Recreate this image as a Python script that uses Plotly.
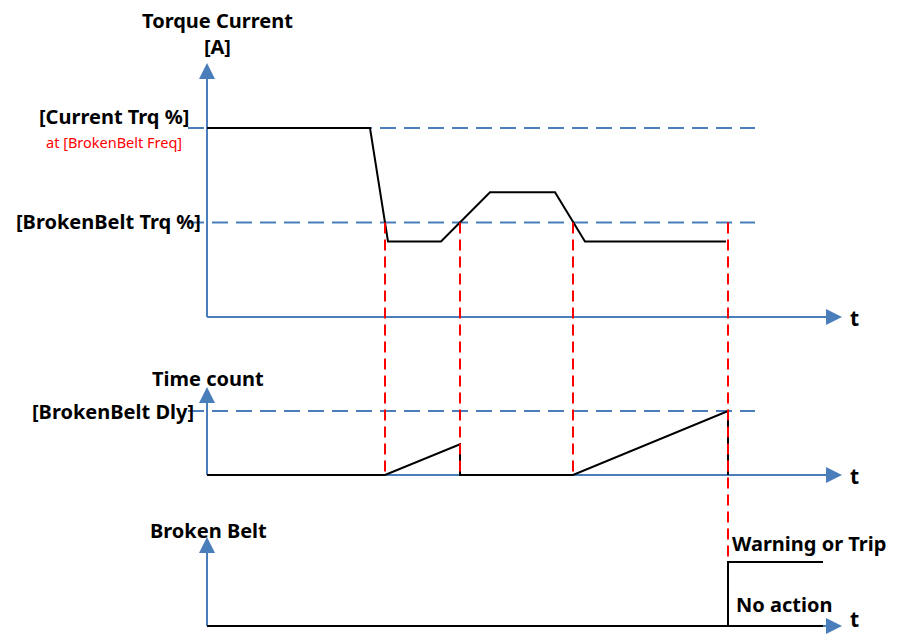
import plotly.graph_objects as go

# ---------------- data ----------------
# time axis in arbitrary units (t = 0 at the vertical axes)
torque_t = [0, 1.63, 1.81, 2.34, 2.83, 3.48, 3.78, 5.19]
torque_pct = [100, 100, 40, 40, 66, 66, 40, 40]
current_trq_level = 100
brokenbelt_trq_level = 50

count_t = [0, 1.78, 2.53, 2.53, 3.66, 5.21, 5.21]
count_pct = [0, 0, 48, 0, 0, 100, 0]
brokenbelt_dly_level = 100

cross_t = [1.78, 2.53, 3.66]      # torque crosses [BrokenBelt Trq %]
detect_t = 5.21                    # time count reaches [BrokenBelt Dly]

belt_noaction_t = [0, 6.16]
belt_noaction_v = [0, 0]
belt_warn_t = [5.21, 5.21, 6.16]
belt_warn_v = [0, 1, 1]

ref_t = [-0.19, 5.48]              # extent of dashed reference levels

# ---------------- geometry / style ----------------
W, H = 899, 635
X0_PX, PX_PER_T = 207, 100
# panel: (baseline pixel row, pixels per value unit)
PANELS = {"y": (317, 1.89), "y2": (475, 0.64), "y3": (626, 64.0)}
AXIS_TOP = {"y": 134.4, "y2": 137.5, "y3": 1.39}
T_AXIS_END = 6.35
HEAD = 16

BLUE = "#4A7EBB"
RED = "#FF0000"
BLACK = "#000000"
FONT = "Noto Sans"


def paper_y(axis, v):
    base, s = PANELS[axis]
    return 1 - (base - s * v) / H


def px(xp, yp):
    return xp / W, 1 - yp / H


fig = go.Figure()

# axes lines (blue)
for ax in PANELS:
    top = AXIS_TOP[ax] - (HEAD - 2) / PANELS[ax][1]
    fig.add_trace(go.Scatter(x=[0, 0], y=[0, top], mode="lines",
                             line=dict(color=BLUE, width=2), yaxis=ax,
                             hoverinfo="skip", showlegend=False))
    fig.add_trace(go.Scatter(x=[0, T_AXIS_END - (HEAD - 2) / PX_PER_T], y=[0, 0],
                             mode="lines", line=dict(color=BLUE, width=2),
                             yaxis=ax, hoverinfo="skip", showlegend=False))

# dashed reference levels
for ax, lvl, w in [("y", current_trq_level, 2.2), ("y", brokenbelt_trq_level, 2.2),
                   ("y2", brokenbelt_dly_level, 1.8)]:
    fig.add_trace(go.Scatter(x=ref_t, y=[lvl, lvl], mode="lines",
                             line=dict(color=BLUE, width=w, dash="16px,8px"),
                             yaxis=ax, hoverinfo="skip", showlegend=False))

# signals
fig.add_trace(go.Scatter(x=torque_t, y=torque_pct, mode="lines",
                         line=dict(color=BLACK, width=2), yaxis="y",
                         showlegend=False))
fig.add_trace(go.Scatter(x=count_t, y=count_pct, mode="lines",
                         line=dict(color=BLACK, width=2), yaxis="y2",
                         showlegend=False))
fig.add_trace(go.Scatter(x=belt_noaction_t, y=belt_noaction_v, mode="lines",
                         line=dict(color=BLACK, width=2), yaxis="y3",
                         showlegend=False))
fig.add_trace(go.Scatter(x=belt_warn_t, y=belt_warn_v, mode="lines",
                         line=dict(color=BLACK, width=2), yaxis="y3",
                         showlegend=False))

# red dashed event markers
shapes = []
for t in cross_t:
    shapes.append(dict(type="line", xref="x", yref="paper", x0=t, x1=t,
                       y0=paper_y("y", brokenbelt_trq_level), y1=paper_y("y2", 0),
                       line=dict(color=RED, width=2, dash="11px,6px"), layer="above"))
shapes.append(dict(type="line", xref="x", yref="paper", x0=detect_t, x1=detect_t,
                   y0=paper_y("y", brokenbelt_trq_level), y1=paper_y("y3", 1),
                   line=dict(color=RED, width=2, dash="11px,6px"), layer="above"))

annotations = []
# arrowheads
for ax in PANELS:
    annotations.append(dict(x=0, y=AXIS_TOP[ax], xref="x", yref=ax, ax=0, ay=HEAD,
                            text="", showarrow=True, arrowhead=2, arrowsize=1.6,
                            arrowwidth=2, arrowcolor=BLUE, standoff=0))
    annotations.append(dict(x=T_AXIS_END, y=0, xref="x", yref=ax, ax=-HEAD, ay=0,
                            text="", showarrow=True, arrowhead=2, arrowsize=1.6,
                            arrowwidth=2, arrowcolor=BLUE, standoff=0))


def label(text, xp, yp, xanchor="center", size=20, color=BLACK, weight="bold",
          yanchor="middle"):
    x, y = px(xp, yp)
    annotations.append(dict(x=x, y=y, xref="paper", yref="paper", text=text,
                            showarrow=False, xanchor=xanchor, yanchor=yanchor,
                            borderpad=0,
                            font=dict(family=FONT, size=size, color=color,
                                      weight=weight)))


label("Torque Current<br>[A]", 217, 33)
label("[Current Trq %]", 190, 117, xanchor="right")
label("at [BrokenBelt Freq]", 183, 142, xanchor="right", size=14.5, color=RED,
      weight="normal")
label("[BrokenBelt Trq %]", 202, 221, xanchor="right")
label("Time count", 208, 378)
label("[BrokenBelt Dly]", 195, 411, xanchor="right")
label("Broken Belt", 208, 530)
label("Warning or Trip", 731, 543, xanchor="left")
label("No action", 735, 604, xanchor="left")
for yp in (318, 476):
    label("t", 849, yp, xanchor="left", size=21)
label("t", 849, 634, xanchor="left", size=21, yanchor="bottom")

fig.update_layout(
    width=W, height=H, margin=dict(l=0, r=0, t=0, b=0),
    paper_bgcolor="white", plot_bgcolor="white",
    xaxis=dict(range=[-X0_PX / PX_PER_T, (W - X0_PX) / PX_PER_T], visible=False,
               fixedrange=True),
    shapes=shapes, annotations=annotations, showlegend=False,
)
for ax, (base, s) in PANELS.items():
    key = "yaxis" if ax == "y" else "yaxis" + ax[1:]
    cfg = dict(range=[(base - H) / s, base / s], visible=False, fixedrange=True)
    if ax != "y":
        cfg["overlaying"] = "y"
    fig.update_layout({key: cfg})

fig.write_html("out.html", config={"displayModeBar": False},
               post_script="document.body.style.margin='0';"
                           "document.body.style.overflow='hidden';")
